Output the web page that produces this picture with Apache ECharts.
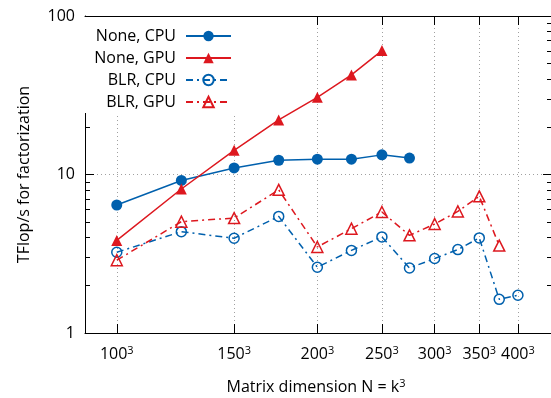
<!DOCTYPE html>
<html>
<head>
<meta charset="utf-8">
<script src="https://cdn.jsdelivr.net/npm/echarts@6/dist/echarts.min.js"></script>
<style>
html,body{margin:0;padding:0;background:#fff;}
#chart{width:551px;height:398px;}
</style>
</head>
<body>
<div id="chart"></div>
<script>
// ---- data (k values; N = k^3) ----
const kNoneCPU = [100, 125, 150, 175, 200, 225, 250, 275];
const noneCPU  = [6.42, 9.17, 11.0, 12.3, 12.5, 12.5, 13.3, 12.7];
const kNoneGPU = [100, 125, 150, 175, 200, 225, 250];
const noneGPU  = [3.84, 8.1, 14.2, 22.1, 30.7, 42.5, 60.5];
const kBlrCPU  = [100, 125, 150, 175, 200, 225, 250, 275, 300, 325, 350, 375, 400];
const blrCPU   = [3.23, 4.36, 3.96, 5.44, 2.6, 3.32, 4.04, 2.57, 2.95, 3.36, 3.98, 1.63, 1.73];
const kBlrGPU  = [100, 125, 150, 175, 200, 225, 250, 275, 300, 325, 350, 375];
const blrGPU   = [2.88, 5.04, 5.31, 8.0, 3.49, 4.55, 5.8, 4.13, 4.87, 5.85, 7.28, 3.56];
const seriesNames = ['None, CPU', 'None, GPU', 'BLR, CPU', 'BLR, GPU'];
const xTicks = [100, 150, 200, 250, 300, 350, 400];
const yTicks = [1, 10, 100];
const yMinorTicks = [2, 3, 4, 5, 6, 7, 8, 9, 20, 30, 40, 50, 60, 70, 80, 90];

const BLUE = '#0060ad';
const RED = '#dd181f';
const FONT = 'Open Sans';
const dashDot = [7, 4, 2, 4];

function pairs(ks, vs) { return ks.map((k, i) => [k, vs[i]]); }

const richSup = {
  n: { fontFamily: FONT, fontSize: 16, color: '#000', lineHeight: 18 },
  s: { fontFamily: FONT, fontSize: 11, color: '#000', lineHeight: 11, verticalAlign: 'top' }
};

const xBase = {
  type: 'log', logBase: 10, min: 89.6, max: 450,
  axisLine: { show: true, lineStyle: { color: '#000', width: 1 } },
  axisTick: { show: true, inside: true, length: 9, customValues: xTicks, lineStyle: { color: '#000' } },
  minorTick: { show: false },
  minorSplitLine: { show: false }
};

const yBase = {
  type: 'log', logBase: 10, min: 1, max: 100,
  minorTick: { show: false },
  minorSplitLine: { show: false }
};

const chart = echarts.init(document.getElementById('chart'), null, { renderer: 'canvas' });
chart.setOption({
  animation: false,
  backgroundColor: '#fff',
  textStyle: { fontFamily: FONT },
  grid: { left: 85, right: -1, top: 16, bottom: 65, containLabel: false, outerBoundsMode: 'none' },
  legend: {
    data: seriesNames,
    orient: 'vertical',
    align: 'right',
    right: 315,
    top: 17,
    padding: [11, 4, 3, 10],
    backgroundColor: '#fff',
    itemWidth: 45,
    itemHeight: 13,
    itemGap: 6,
    textStyle: { fontFamily: FONT, fontSize: 16, color: '#000', padding: [0, 5, 0, 0] }
  },
  xAxis: [
    Object.assign({}, xBase, {
      position: 'bottom',
      name: '{n|Matrix dimension N = k}{s|3}',
      nameLocation: 'middle',
      nameGap: 45,
      nameTextStyle: { rich: richSup, padding: [0, 5, 0, 0] },
      axisLabel: {
        show: true, margin: 12, customValues: xTicks,
        formatter: v => '{n|' + Math.round(v) + '}{s|3}',
        rich: richSup
      },
      splitLine: { show: true, lineStyle: { color: '#a0a0a0', width: 1, type: [1, 3] } }
    }),
    Object.assign({}, xBase, {
      position: 'top',
      axisLabel: { show: false },
      splitLine: { show: false }
    })
  ],
  yAxis: [
    Object.assign({}, yBase, {
      position: 'left',
      name: 'TFlop/s for factorization',
      nameLocation: 'middle',
      nameGap: 53,
      nameTextStyle: { fontFamily: FONT, fontSize: 16, color: '#000' },
      axisLine: { show: true, lineStyle: { color: '#000', width: 1 } },
      axisTick: { show: true, inside: true, length: 9, customValues: yTicks, lineStyle: { color: '#000' } },
      axisLabel: { show: true, margin: 10, customValues: yTicks, fontFamily: FONT, fontSize: 16, color: '#000', formatter: v => String(Math.round(v)) },
      splitLine: { show: true, lineStyle: { color: '#a0a0a0', width: 1, type: [1, 3] } }
    }),
    Object.assign({}, yBase, {
      position: 'left',
      axisLine: { show: false },
      axisTick: { show: true, inside: true, length: 5, customValues: yMinorTicks, lineStyle: { color: '#000' } },
      axisLabel: { show: false },
      splitLine: { show: false }
    }),
    Object.assign({}, yBase, {
      position: 'right',
      axisLine: { show: true, lineStyle: { color: '#000', width: 1 } },
      axisTick: { show: true, inside: true, length: 9, customValues: yTicks, lineStyle: { color: '#000' } },
      axisLabel: { show: false },
      splitLine: { show: false }
    }),
    Object.assign({}, yBase, {
      position: 'right',
      axisLine: { show: false },
      axisTick: { show: true, inside: true, length: 5, customValues: yMinorTicks, lineStyle: { color: '#000' } },
      axisLabel: { show: false },
      splitLine: { show: false }
    })
  ],
  series: [
    {
      name: seriesNames[0], type: 'line', xAxisIndex: 0, yAxisIndex: 0,
      data: pairs(kNoneCPU, noneCPU),
      symbol: 'circle', symbolSize: 11,
      itemStyle: { color: BLUE },
      lineStyle: { color: BLUE, width: 1.5, type: 'solid' }
    },
    {
      name: seriesNames[1], type: 'line', xAxisIndex: 0, yAxisIndex: 0,
      data: pairs(kNoneGPU, noneGPU),
      symbol: 'triangle', symbolSize: 11,
      itemStyle: { color: RED },
      lineStyle: { color: RED, width: 1.5, type: 'solid' }
    },
    {
      name: seriesNames[2], type: 'line', xAxisIndex: 0, yAxisIndex: 0,
      data: pairs(kBlrCPU, blrCPU),
      symbol: 'circle', symbolSize: 10,
      itemStyle: { color: 'rgba(255,255,255,0)', borderColor: BLUE, borderWidth: 1.5 },
      lineStyle: { color: BLUE, width: 1.5, type: dashDot }
    },
    {
      name: seriesNames[3], type: 'line', xAxisIndex: 0, yAxisIndex: 0,
      data: pairs(kBlrGPU, blrGPU),
      symbol: 'triangle', symbolSize: 11,
      itemStyle: { color: 'rgba(255,255,255,0)', borderColor: RED, borderWidth: 1.5 },
      lineStyle: { color: RED, width: 1.5, type: dashDot }
    }
  ]
});
</script>
</body>
</html>
